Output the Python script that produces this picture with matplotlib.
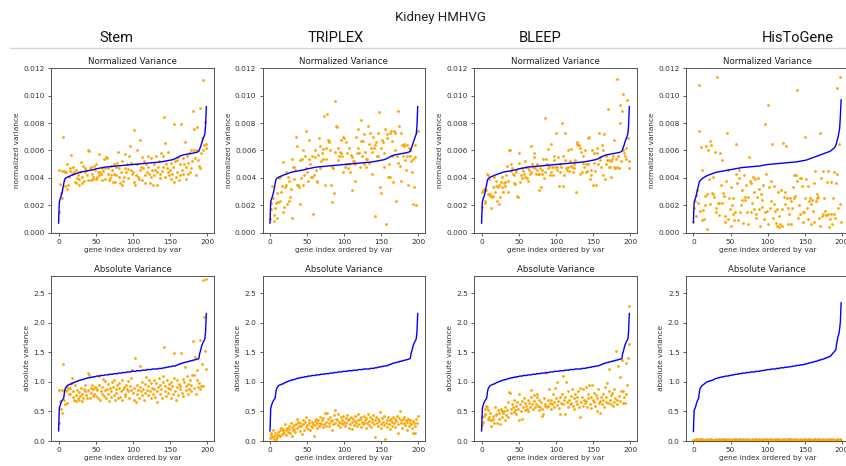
import numpy as np
import matplotlib.pyplot as plt

# column headers / panel titles
methods = ['Stem', 'TRIPLEX', 'BLEEP', 'HisToGene']
suptitle = 'Kidney HMHVG'

# ---- ground truth (blue line), sorted by variance ----
# normalized variance, units of 1e-5
norm_gt = [
    70, 225, 245, 260, 280, 300, 330, 360, 385, 395,
    400, 403, 406, 409, 411, 413, 415, 418, 420, 422,
    424, 426, 428, 430, 432, 434, 436, 438, 440, 442,
    443, 444, 445, 446, 447, 448, 449, 450, 451, 452,
    453, 454, 455, 456, 457, 458, 459, 460, 462, 464,
    466, 467, 468, 469, 470, 471, 472, 473, 474, 475,
    476, 477, 478, 479, 480, 480, 481, 481, 482, 482,
    483, 483, 484, 484, 485, 485, 486, 486, 487, 487,
    488, 488, 489, 489, 490, 490, 491, 491, 492, 492,
    493, 493, 494, 494, 495, 495, 496, 496, 497, 497,
    498, 498, 499, 499, 500, 500, 501, 501, 502, 502,
    503, 503, 504, 504, 505, 505, 506, 506, 507, 507,
    508, 508, 509, 509, 510, 510, 511, 511, 512, 512,
    513, 513, 514, 514, 515, 515, 516, 516, 517, 518,
    519, 520, 521, 522, 523, 524, 525, 526, 527, 528,
    529, 530, 531, 532, 534, 536, 538, 540, 543, 546,
    549, 552, 555, 558, 560, 562, 564, 566, 568, 569,
    570, 571, 572, 573, 574, 575, 576, 577, 578, 579,
    580, 581, 582, 583, 584, 585, 587, 589, 591, 595,
    610, 625, 640, 660, 675, 690, 705, 720, 780, 920,
]
norm_gt_htg = [
    75, 220, 240, 255, 275, 300, 325, 350, 370, 380,
    385, 390, 395, 400, 403, 406, 409, 412, 415, 418,
    420, 422, 424, 426, 428, 430, 432, 434, 436, 438,
    440, 441, 442, 443, 444, 445, 446, 447, 448, 449,
    450, 451, 452, 453, 454, 455, 456, 457, 458, 459,
    460, 461, 462, 463, 464, 465, 466, 467, 468, 469,
    470, 471, 472, 473, 474, 475, 476, 476, 477, 477,
    478, 478, 479, 479, 480, 480, 481, 481, 482, 482,
    483, 483, 484, 484, 485, 485, 486, 486, 487, 487,
    488, 489, 490, 491, 492, 493, 494, 495, 496, 497,
    498, 498, 499, 499, 500, 500, 501, 501, 502, 502,
    503, 503, 504, 504, 505, 505, 506, 506, 507, 507,
    508, 508, 509, 509, 510, 510, 511, 511, 512, 512,
    513, 513, 514, 514, 515, 515, 516, 516, 517, 517,
    518, 519, 520, 521, 522, 523, 524, 525, 526, 527,
    528, 529, 530, 532, 534, 536, 538, 540, 542, 544,
    546, 548, 550, 552, 554, 556, 558, 560, 562, 564,
    566, 568, 570, 572, 574, 576, 578, 580, 582, 584,
    586, 588, 590, 592, 594, 598, 602, 606, 610, 615,
    620, 628, 640, 660, 680, 700, 730, 760, 850, 970,
]
# absolute variance, units of 0.01
abs_gt = [
    17, 55, 60, 64, 67, 69, 71, 73, 84, 89,
    91, 93, 94, 95, 95, 96, 96, 97, 97, 98,
    99, 99, 100, 100, 101, 101, 102, 102, 103, 103,
    103, 104, 104, 104, 105, 105, 106, 106, 106, 107,
    107, 107, 107, 108, 108, 108, 108, 109, 109, 109,
    109, 110, 110, 110, 110, 110, 111, 111, 111, 111,
    111, 111, 112, 112, 112, 112, 112, 112, 113, 113,
    113, 113, 113, 113, 114, 114, 114, 114, 114, 114,
    115, 115, 115, 115, 115, 115, 116, 116, 116, 116,
    116, 116, 117, 117, 117, 117, 117, 117, 118, 118,
    118, 118, 118, 118, 118, 119, 119, 119, 119, 119,
    119, 119, 120, 120, 120, 120, 120, 120, 120, 121,
    121, 121, 121, 121, 121, 121, 122, 122, 122, 122,
    122, 122, 122, 122, 122, 123, 123, 123, 123, 123,
    123, 124, 124, 124, 124, 125, 125, 125, 125, 126,
    126, 126, 126, 127, 127, 127, 127, 127, 128, 128,
    129, 129, 130, 130, 131, 131, 132, 132, 132, 133,
    133, 133, 134, 134, 134, 135, 135, 135, 136, 136,
    136, 137, 137, 137, 138, 138, 138, 139, 139, 140,
    148, 152, 157, 162, 165, 168, 170, 173, 185, 216,
]
abs_gt_htg = [
    16, 52, 55, 58, 63, 67, 70, 72, 82, 89,
    91, 93, 94, 95, 96, 97, 98, 99, 100, 100,
    101, 101, 102, 102, 102, 103, 103, 104, 104, 105,
    106, 106, 106, 107, 107, 107, 108, 108, 108, 109,
    109, 109, 109, 110, 110, 110, 110, 110, 111, 111,
    111, 111, 112, 112, 112, 112, 113, 113, 113, 113,
    113, 114, 114, 114, 114, 114, 115, 115, 115, 115,
    115, 116, 116, 116, 116, 116, 116, 117, 117, 117,
    117, 117, 117, 117, 118, 118, 118, 118, 118, 118,
    119, 119, 119, 119, 119, 120, 120, 120, 120, 121,
    121, 121, 121, 121, 121, 122, 122, 122, 122, 122,
    122, 122, 123, 123, 123, 123, 123, 124, 124, 124,
    124, 124, 124, 125, 125, 125, 125, 125, 125, 126,
    126, 126, 126, 126, 127, 127, 127, 127, 127, 128,
    128, 128, 128, 128, 129, 129, 129, 129, 129, 130,
    130, 130, 131, 131, 131, 132, 132, 132, 133, 133,
    133, 134, 134, 134, 135, 135, 135, 136, 136, 137,
    137, 137, 138, 138, 138, 139, 139, 140, 140, 141,
    141, 142, 142, 143, 143, 144, 146, 147, 149, 150,
    152, 153, 155, 165, 172, 178, 181, 190, 202, 234,
]

# ---- predictions (orange points) ----
# normalized variance, units of 1e-5
stem_norm = [
    153, 455, 353, 290, 250, 450, 695, 450, 445, 340,
    445, 320, 500, 345, 410, 470, 450, 565, 430, 480,
    435, 440, 370, 360, 455, 400, 420, 350, 395, 440,
    515, 410, 365, 485, 380, 440, 470, 460, 420, 605,
    385, 595, 470, 385, 480, 430, 395, 410, 490, 460,
    500, 395, 410, 440, 575, 420, 440, 430, 470, 385,
    450, 540, 475, 390, 550, 545, 430, 470, 385, 400,
    490, 420, 455, 370, 500, 430, 370, 480, 420, 510,
    590, 405, 475, 360, 440, 350, 520, 380, 410, 475,
    575, 440, 500, 465, 400, 560, 630, 460, 510, 430,
    445, 370, 750, 350, 420, 500, 600, 410, 390, 675,
    455, 480, 550, 385, 470, 520, 365, 420, 500, 445,
    560, 480, 430, 360, 410, 545, 455, 350, 505, 420,
    460, 560, 440, 350, 480, 520, 400, 430, 580, 450,
    560, 480, 845, 655, 410, 500, 470, 440, 590, 420,
    460, 390, 510, 430, 480, 790, 370, 520, 410, 440,
    530, 555, 385, 500, 420, 790, 460, 430, 545, 500,
    660, 390, 480, 560, 430, 510, 580, 440, 600, 470,
    520, 890, 600, 760, 545, 420, 600, 770, 530, 490,
    910, 470, 580, 690, 600, 1115, 640, 810, 650, 620,
]
triplex_norm = [
    100, 170, 220, 340, 250, 130, 85, 180, 220, 290,
    110, 225, 400, 410, 230, 300, 340, 515, 150, 185,
    330, 345, 440, 210, 405, 380, 230, 260, 320, 540,
    110, 480, 480, 390, 460, 700, 630, 345, 345, 330,
    210, 530, 400, 540, 600, 350, 420, 560, 740, 470,
    440, 380, 540, 680, 500, 410, 410, 560, 140, 420,
    550, 600, 460, 380, 370, 570, 690, 630, 470, 520,
    580, 610, 540, 850, 345, 540, 620, 870, 680, 670,
    660, 600, 350, 225, 480, 470, 290, 960, 590, 780,
    770, 530, 620, 560, 590, 680, 580, 560, 700, 440,
    690, 480, 500, 660, 580, 470, 500, 620, 440, 570,
    310, 550, 520, 520, 380, 500, 700, 580, 760, 620,
    580, 480, 670, 820, 560, 670, 720, 500, 590, 480,
    540, 540, 780, 650, 510, 730, 620, 430, 590, 700,
    620, 125, 640, 660, 560, 730, 560, 880, 330, 290,
    620, 680, 660, 580, 480, 760, 65, 720, 690, 410,
    500, 730, 410, 740, 560, 670, 370, 740, 600, 730,
    230, 560, 890, 510, 780, 490, 730, 380, 640, 560,
    650, 630, 530, 460, 640, 560, 350, 620, 560, 600,
    520, 440, 540, 210, 330, 550, 640, 200, 740, 740,
]
bleep_norm = [
    190, 295, 310, 320, 230, 220, 310, 430, 420, 280,
    390, 270, 280, 180, 260, 330, 270, 410, 300, 340,
    380, 230, 330, 345, 210, 260, 370, 410, 330, 300,
    360, 370, 340, 420, 490, 300, 380, 605, 600, 450,
    500, 470, 430, 360, 420, 355, 460, 440, 265, 260,
    585, 510, 370, 420, 470, 400, 450, 430, 410, 520,
    480, 400, 470, 380, 460, 430, 630, 440, 500, 480,
    550, 580, 470, 430, 500, 460, 430, 310, 430, 470,
    330, 430, 455, 540, 400, 840, 440, 540, 500, 610,
    470, 490, 420, 440, 650, 480, 420, 560, 530, 480,
    730, 460, 480, 550, 340, 440, 500, 480, 800, 340,
    560, 420, 530, 730, 470, 460, 480, 600, 450, 520,
    490, 610, 480, 440, 470, 500, 530, 300, 660, 650,
    640, 640, 620, 430, 590, 440, 560, 510, 480, 600,
    500, 440, 450, 500, 690, 700, 390, 420, 460, 600,
    350, 580, 510, 450, 350, 620, 580, 500, 730, 550,
    530, 480, 640, 420, 600, 720, 390, 500, 560, 530,
    900, 480, 530, 480, 520, 410, 540, 560, 480, 680,
    470, 540, 480, 1120, 560, 470, 930, 800, 520, 890,
    600, 1010, 580, 560, 620, 540, 970, 690, 520, 470,
]
histogene_norm = [
    75, 180, 230, 275, 120, 310, 220, 1080, 745, 160,
    625, 90, 460, 165, 100, 200, 270, 630, 30, 280,
    600, 390, 210, 670, 640, 290, 410, 280, 260, 590,
    180, 150, 1140, 220, 130, 220, 580, 350, 215, 530,
    290, 270, 80, 120, 380, 725, 100, 460, 250, 170,
    50, 330, 200, 250, 140, 90, 150, 650, 430, 360,
    90, 460, 400, 150, 200, 240, 310, 70, 420, 260,
    240, 350, 150, 60, 260, 555, 380, 150, 360, 220,
    410, 170, 300, 390, 140, 110, 260, 400, 170, 320,
    50, 280, 190, 240, 350, 100, 150, 790, 430, 160,
    930, 60, 330, 180, 230, 380, 645, 110, 340, 210,
    160, 70, 50, 170, 300, 40, 120, 60, 310, 170,
    50, 655, 260, 300, 210, 630, 250, 180, 60, 140,
    250, 230, 60, 180, 330, 420, 250, 270, 420, 1045,
    380, 110, 200, 400, 140, 400, 340, 80, 150, 150,
    700, 250, 390, 180, 340, 100, 230, 250, 60, 210,
    240, 160, 360, 80, 450, 230, 250, 280, 260, 110,
    725, 50, 400, 120, 140, 450, 250, 160, 130, 130,
    370, 450, 140, 40, 100, 370, 140, 60, 250, 440,
    140, 110, 360, 1055, 430, 180, 650, 210, 1140, 80,
]
# absolute variance, units of 0.01 (HisToGene in units of 0.001)
stem_abs = [
    30, 86, 67, 55, 47, 86, 131, 70, 86, 62,
    85, 92, 65, 88, 80, 90, 79, 98, 107, 84,
    75, 70, 95, 68, 78, 87, 72, 83, 69, 77,
    90, 80, 68, 73, 88, 84, 95, 78, 72, 86,
    115, 112, 73, 90, 82, 95, 76, 88, 80, 92,
    77, 90, 86, 73, 95, 110, 70, 85, 79, 92,
    105, 76, 86, 102, 73, 88, 97, 80, 67, 90,
    85, 75, 100, 92, 78, 104, 70, 88, 82, 95,
    73, 90, 98, 75, 85, 103, 70, 88, 92, 80,
    76, 95, 88, 102, 84, 73, 93, 86, 106, 120,
    82, 70, 90, 141, 66, 95, 80, 87, 73, 127,
    92, 84, 100, 78, 88, 70, 96, 82, 108, 86,
    94, 78, 103, 85, 72, 98, 90, 80, 104, 88,
    75, 99, 66, 84, 92, 106, 80, 95, 88, 72,
    100, 110, 160, 85, 93, 76, 104, 90, 82, 97,
    88, 72, 100, 94, 80, 106, 149, 84, 69, 92,
    103, 78, 97, 88, 94, 149, 82, 105, 76, 100,
    125, 86, 93, 110, 80, 97, 88, 104, 84, 95,
    112, 169, 112, 90, 143, 80, 104, 120, 92, 98,
    171, 88, 93, 131, 93, 272, 210, 153, 122, 275,
]
triplex_abs = [
    5, 10, 13, 7, 18, 4, 9, 14, 3, 11,
    6, 15, 10, 19, 8, 22, 12, 17, 20, 14,
    28, 18, 11, 22, 16, 25, 20, 13, 30, 9,
    24, 18, 27, 21, 15, 29, 38, 22, 33, 26,
    17, 30, 25, 12, 35, 28, 19, 32, 24, 40,
    27, 21, 31, 36, 18, 26, 33, 23, 29, 8,
    34, 27, 38, 22, 30, 36, 25, 41, 31, 28,
    35, 24, 39, 29, 47, 33, 26, 48, 37, 31,
    25, 41, 34, 18, 36, 29, 44, 53, 30, 38,
    35, 27, 46, 33, 24, 40, 31, 36, 28, 42,
    33, 26, 39, 30, 44, 35, 22, 37, 29, 41,
    32, 20, 38, 27, 34, 43, 30, 25, 36, 45,
    29, 37, 24, 40, 33, 28, 42, 31, 35, 22,
    39, 30, 46, 34, 27, 41, 23, 37, 32, 44,
    28, 6, 36, 40, 31, 25, 38, 34, 49, 29,
    22, 39, 33, 27, 42, 4, 31, 36, 24, 40,
    29, 35, 20, 38, 32, 26, 41, 30, 37, 23,
    34, 42, 13, 28, 39, 50, 31, 36, 22, 38,
    30, 41, 27, 35, 19, 33, 38, 25, 31, 36,
    28, 22, 34, 13, 30, 13, 26, 37, 30, 42,
]
bleep_abs = [
    27, 40, 32, 42, 45, 55, 60, 58, 52, 37,
    40, 35, 47, 25, 36, 42, 38, 30, 58, 44,
    45, 31, 52, 38, 48, 29, 55, 50, 41, 47,
    50, 36, 58, 44, 52, 40, 66, 83, 82, 54,
    47, 62, 58, 49, 70, 52, 60, 45, 66, 55,
    80, 36, 62, 50, 68, 38, 58, 72, 53, 64,
    60, 55, 70, 50, 65, 58, 74, 86, 62, 55,
    68, 78, 58, 63, 80, 75, 60, 52, 70, 58,
    66, 55, 42, 45, 72, 60, 63, 116, 58, 70,
    60, 88, 65, 55, 70, 62, 80, 58, 66, 89,
    72, 61, 100, 68, 56, 75, 46, 64, 80, 110,
    62, 70, 46, 74, 100, 66, 58, 84, 70, 62,
    76, 65, 88, 60, 72, 55, 80, 68, 62, 74,
    85, 58, 40, 90, 66, 75, 60, 88, 70, 64,
    92, 68, 58, 80, 72, 95, 62, 74, 56, 95,
    70, 66, 82, 60, 78, 50, 72, 88, 64, 68,
    48, 75, 62, 80, 70, 58, 92, 66, 74, 98,
    64, 84, 122, 70, 78, 62, 82, 60, 88, 66,
    72, 153, 70, 62, 127, 76, 108, 68, 85, 138,
    64, 85, 74, 65, 132, 80, 95, 140, 165, 228,
]
histogene_abs = [
    12, 25, 18, 30, 9, 22, 15, 28, 20, 11,
    26, 17, 32, 14, 21, 8, 24, 19, 29, 13,
    23, 16, 27, 10, 31, 18, 22, 14, 25, 20,
    12, 28, 17, 24, 9, 30, 21, 15, 26, 19,
    13, 27, 22, 16, 33, 11, 24, 18, 29, 14,
    20, 25, 12, 31, 17, 23, 38, 15, 27, 21,
    10, 26, 19, 30, 14, 22, 17, 28, 12, 24,
    18, 32, 15, 21, 27, 11, 25, 20, 16, 29,
    13, 23, 19, 34, 14, 26, 21, 17, 30, 12,
    24, 18, 28, 15, 22, 10, 27, 20, 16, 31,
    19, 25, 13, 29, 21, 17, 26, 14, 23, 18,
    30, 12, 42, 20, 16, 27, 22, 11, 25, 19,
    15, 28, 21, 33, 13, 24, 18, 26, 14, 30,
    20, 16, 29, 12, 23, 27, 17, 21, 31, 15,
    25, 19, 22, 14, 28, 18, 24, 11, 26, 20,
    17, 30, 13, 23, 27, 16, 21, 29, 12, 25,
    19, 22, 35, 15, 26, 18, 24, 14, 28, 20,
    16, 31, 12, 23, 27, 19, 25, 17, 21, 30,
    13, 24, 18, 28, 15, 22, 26, 11, 29, 20,
    17, 25, 14, 23, 30, 19, 21, 16, 27, 22,
]

norm_gt = np.array(norm_gt) * 1e-5
norm_gt_htg = np.array(norm_gt_htg) * 1e-5
abs_gt = np.array(abs_gt) * 0.01
abs_gt_htg = np.array(abs_gt_htg) * 0.01

norm_pred = [np.array(v) * 1e-5 for v in (stem_norm, triplex_norm, bleep_norm, histogene_norm)]
abs_pred = [np.array(stem_abs) * 0.01, np.array(triplex_abs) * 0.01,
            np.array(bleep_abs) * 0.01, np.array(histogene_abs) * 0.001]
norm_truth = [norm_gt, norm_gt, norm_gt, norm_gt_htg]
abs_truth = [abs_gt, abs_gt, abs_gt, abs_gt_htg]

W, H = 846, 466
fig = plt.figure(figsize=(W / 100, H / 100), dpi=100)


def px_axes(left, top, width, height):
    return fig.add_axes([left / W, 1 - (top + height) / H, width / W, height / H])


# header: title, method names, separator line
fig.text(440 / W, 1 - 17 / H, suptitle, ha='center', va='center',
         fontsize=9.5, family='Roboto', color='#222222')
header_x = [116, 336, 540, 798]
for name, x in zip(methods, header_x):
    fig.text(x / W, 1 - 38 / H, name, ha='center', va='center',
             fontsize=10.5, family='Roboto', color='#111111')
fig.add_artist(plt.Line2D([10 / W, 1.0], [1 - 48 / H, 1 - 48 / H],
                          color='#d5d5d5', lw=1))

lefts = [51.2, 262.6, 474.2, 686.0]
idx = np.arange(200)


def style(ax):
    for s in ax.spines.values():
        s.set_color('#555555')
        s.set_linewidth(0.7)
    ax.tick_params(labelsize=5.3, length=2.5, width=0.6, pad=2,
                   color='#444444', labelcolor='#333333')


for c in range(4):
    ax = px_axes(lefts[c], 68.3, 162.5, 164.4)
    ax.scatter(idx, norm_pred[c], s=4, color='orange', linewidths=0)
    ax.plot(idx, norm_truth[c], color='blue', lw=1.0)
    ax.set_ylim(0, 0.012)
    ax.set_yticks(np.arange(0, 0.0121, 0.002))
    ax.set_xticks([0, 50, 100, 150, 200])
    ax.set_title('Normalized Variance', fontsize=6.2, pad=3, color='#222222')
    ax.set_xlabel('gene index ordered by var', fontsize=5.3, labelpad=1.5, color='#333333')
    ax.set_ylabel('normalized variance', fontsize=5.3, labelpad=2.5, color='#333333')
    style(ax)

    ax = px_axes(lefts[c], 275.7, 162.5, 165.3)
    ax.scatter(idx, abs_pred[c], s=4, color='orange', linewidths=0)
    ax.plot(idx, abs_truth[c], color='blue', lw=1.0)
    ax.set_ylim(0, 2.8)
    ax.set_yticks([0, 0.5, 1.0, 1.5, 2.0, 2.5])
    ax.set_xticks([0, 50, 100, 150, 200])
    ax.set_title('Absolute Variance', fontsize=6.2, pad=3, color='#222222')
    ax.set_xlabel('gene index ordered by var', fontsize=5.3, labelpad=1.5, color='#333333')
    ax.set_ylabel('absolute variance', fontsize=5.3, labelpad=2.5, color='#333333')
    style(ax)

fig.savefig('out.png', dpi=100)
